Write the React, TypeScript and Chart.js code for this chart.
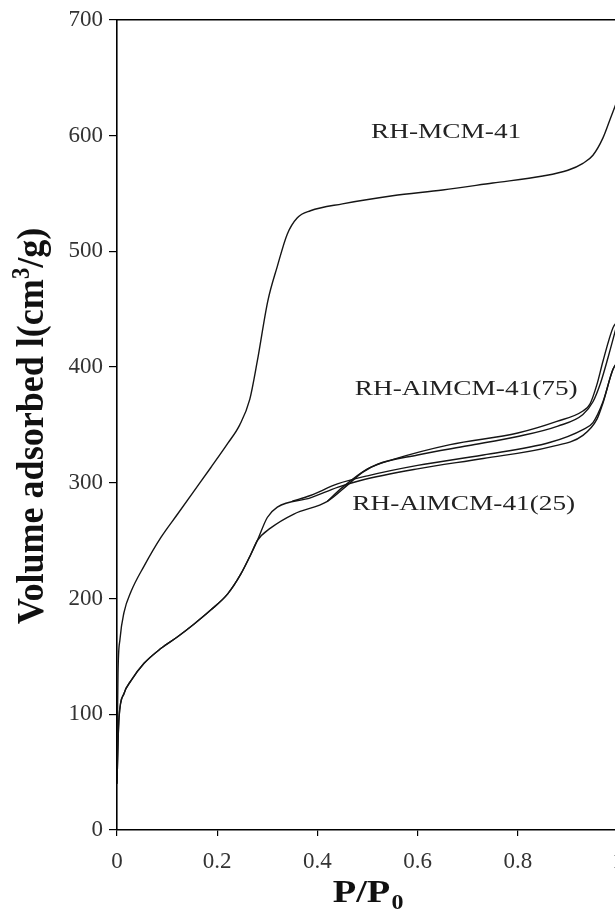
import React, { useEffect, useRef } from "react";
import { Chart, registerables } from "chart.js";

Chart.register(...registerables);

// ---- data (P/P0 vs volume adsorbed, cm3/g) ----
const MCM41_P = [0, 0.002, 0.006, 0.014, 0.028, 0.054, 0.088, 0.121, 0.154, 0.187, 0.221, 0.245, 0.265, 0.28, 0.301, 0.32, 0.34, 0.36, 0.386, 0.45, 0.55, 0.65, 0.75, 0.85, 0.9, 0.93, 0.95, 0.97, 0.985, 1.0];
const MCM41_V = [60, 135, 165, 188, 206, 228, 253, 273, 293, 313, 334, 350, 372, 405, 457, 487, 515, 529, 535, 541, 548, 553, 559, 565, 570, 576, 583, 598, 615, 632];

const AL75_ADS_P = [0, 0.002, 0.004, 0.014, 0.028, 0.054, 0.088, 0.121, 0.154, 0.187, 0.221, 0.247, 0.267, 0.28, 0.307, 0.353, 0.42, 0.46, 0.49, 0.52, 0.6, 0.7, 0.8, 0.88, 0.93, 0.95, 0.965, 0.98, 1.0];
const AL75_ADS_V = [40, 75, 97, 118, 129, 144, 157, 167, 178, 190, 204, 221, 238, 250, 261, 273, 284, 298, 309, 316, 324, 332, 340, 349, 359, 370, 386, 408, 440];
const AL75_DES_P = [0.42, 0.45, 0.5, 0.55, 0.665, 0.8, 0.878, 0.93, 0.944, 0.958, 0.97, 0.99, 1.0];
const AL75_DES_V = [284, 296, 312, 320, 333, 343, 353, 362, 368, 385, 405, 434, 440];

const AL25_ADS_P = [0, 0.002, 0.004, 0.014, 0.028, 0.054, 0.088, 0.121, 0.154, 0.187, 0.221, 0.247, 0.267, 0.28, 0.3, 0.32, 0.386, 0.44, 0.486, 0.6, 0.731, 0.865, 0.93, 0.958, 0.97, 0.99, 1.0];
const AL25_ADS_V = [40, 75, 97, 118, 129, 144, 157, 167, 178, 190, 204, 221, 238, 250, 270, 279, 287, 296, 302, 312, 321, 331, 341, 355, 369, 398, 405];
const AL25_DES_P = [0.35, 0.386, 0.44, 0.5, 0.6, 0.731, 0.865, 0.93, 0.95, 0.97, 0.99, 1.0];
const AL25_DES_V = [284, 289, 299, 306, 315, 324, 335, 346, 352, 370, 398, 405];

const X_TICKS = [0, 0.2, 0.4, 0.6, 0.8, 1];
const X_TICK_LABELS = ["0", "0.2", "0.4", "0.6", "0.8", "1"];
const Y_TICKS = [0, 100, 200, 300, 400, 500, 600, 700];

const LABEL_TEXT = ["RH-MCM-41", "RH-AlMCM-41(75)", "RH-AlMCM-41(25)"];
const LABEL_P = [0.657, 0.697, 0.692];
const LABEL_V = [603, 381, 281];

const pts = (xs: number[], ys: number[]) => xs.map((x, i) => ({ x, y: ys[i] }));

const overlay = {
  id: "overlay",
  afterDraw(chart: any) {
    const { ctx, chartArea, scales } = chart;
    ctx.save();
    // top frame line
    ctx.strokeStyle = "#000";
    ctx.lineWidth = 1.5;
    ctx.beginPath();
    ctx.moveTo(chartArea.left, chartArea.top);
    ctx.lineTo(chartArea.right, chartArea.top);
    ctx.stroke();

    ctx.fillStyle = "#222";
    // curve labels
    ctx.font = "21px 'Liberation Serif', serif";
    ctx.textAlign = "center";
    ctx.textBaseline = "middle";
    LABEL_TEXT.forEach((t, i) => {
      const px = scales.x.getPixelForValue(LABEL_P[i]);
      const py = scales.y.getPixelForValue(LABEL_V[i]);
      ctx.save();
      ctx.translate(px, py);
      ctx.scale(1.3, 1);
      ctx.fillText(t, 0, 0);
      ctx.restore();
    });

    // y title (rotated), with superscript
    ctx.fillStyle = "#111";
    ctx.save();
    ctx.translate(43, 426);
    ctx.rotate(-Math.PI / 2);
    ctx.scale(1.03, 1.1);
    ctx.textAlign = "left";
    ctx.textBaseline = "alphabetic";
    const big = "bold 35px 'Liberation Serif', serif";
    const small = "bold 22px 'Liberation Serif', serif";
    const p1 = "Volume adsorbed l(cm";
    const p2 = "3";
    const p3 = "/g)";
    ctx.font = big;
    const w1 = ctx.measureText(p1).width;
    const w3 = ctx.measureText(p3).width;
    ctx.font = small;
    const w2 = ctx.measureText(p2).width;
    const total = w1 + w2 + w3;
    let x0 = -total / 2;
    ctx.font = big;
    ctx.fillText(p1, x0, 0);
    x0 += w1;
    ctx.font = small;
    ctx.fillText(p2, x0, -13);
    x0 += w2;
    ctx.font = big;
    ctx.fillText(p3, x0, 0);
    ctx.restore();

    // x title with subscript
    ctx.save();
    const xc = scales.x.getPixelForValue(0.5);
    ctx.translate(xc, 902);
    ctx.scale(1.2, 1);
    ctx.textAlign = "left";
    ctx.textBaseline = "alphabetic";
    const xb = "bold 32px 'Liberation Serif', serif";
    const xs = "bold 20px 'Liberation Serif', serif";
    ctx.font = xb;
    const a = ctx.measureText("P/P").width;
    ctx.font = xs;
    const b = ctx.measureText("0").width;
    let sx = -(a + b) / 2;
    ctx.font = xb;
    ctx.fillText("P/P", sx, 0);
    sx += a + 1;
    ctx.font = xs;
    ctx.fillText("0", sx, 7);
    ctx.restore();

    ctx.restore();
  },
};

export default function App() {
  const ref = useRef<HTMLCanvasElement | null>(null);

  useEffect(() => {
    document.body.style.margin = "0";
    document.body.style.overflow = "hidden";
    document.documentElement.style.overflow = "hidden";
    if (!ref.current) return;
    const line = (data: { x: number; y: number }[]) => ({
      data,
      borderColor: "#151515",
      borderWidth: 1.4,
      pointRadius: 0,
      fill: false,
      cubicInterpolationMode: "monotone" as const,
    });
    const chart = new Chart(ref.current, {
      type: "line",
      data: {
        datasets: [
          { label: "RH-MCM-41", ...line(pts(MCM41_P, MCM41_V)) },
          { label: "RH-AlMCM-41(75) ads", ...line(pts(AL75_ADS_P, AL75_ADS_V)) },
          { label: "RH-AlMCM-41(75) des", ...line(pts(AL75_DES_P, AL75_DES_V)) },
          { label: "RH-AlMCM-41(25) ads", ...line(pts(AL25_ADS_P, AL25_ADS_V)) },
          { label: "RH-AlMCM-41(25) des", ...line(pts(AL25_DES_P, AL25_DES_V)) },
        ],
      },
      options: {
        animation: false,
        responsive: false,
        maintainAspectRatio: false,
        layout: { padding: { top: 10, right: 22, left: 0, bottom: 0 } },
        plugins: { legend: { display: false }, tooltip: { enabled: false } },
        scales: {
          x: {
            type: "linear",
            min: 0,
            max: 1,
            afterBuildTicks: (s: any) => {
              s.ticks = X_TICKS.map((v) => ({ value: v }));
            },
            afterFit: (s: any) => {
              s.height = 84;
            },
            ticks: {
              callback: (v: any) => {
                const i = X_TICKS.indexOf(Number(v));
                return i >= 0 ? X_TICK_LABELS[i] : "";
              },
              font: { family: "'Liberation Serif', serif", size: 23 },
              color: "#333",
              padding: 12,
              maxRotation: 0,
              autoSkip: false,
            },
            grid: { display: true, drawOnChartArea: false, drawTicks: true, tickLength: 6, color: "#000", lineWidth: 1.2 },
            border: { display: true, color: "#000", width: 1.6 },
          },
          y: {
            min: 0,
            max: 700,
            afterBuildTicks: (s: any) => {
              s.ticks = Y_TICKS.map((v) => ({ value: v }));
            },
            afterFit: (s: any) => {
              s.width = 117;
            },
            ticks: {
              font: { family: "'Liberation Serif', serif", size: 23 },
              color: "#333",
              padding: 6,
              autoSkip: false,
            },
            grid: { display: true, drawOnChartArea: false, drawTicks: true, tickLength: 8, color: "#000", lineWidth: 1.2 },
            border: { display: true, color: "#000", width: 1.6 },
          },
        },
      },
      plugins: [overlay],
    });
    return () => chart.destroy();
  }, []);

  return (
    <div style={{ width: 615, height: 914, overflow: "hidden", position: "relative", background: "#fff" }}>
      <canvas ref={ref} width={640} height={914} style={{ display: "block" }} />
    </div>
  );
}
